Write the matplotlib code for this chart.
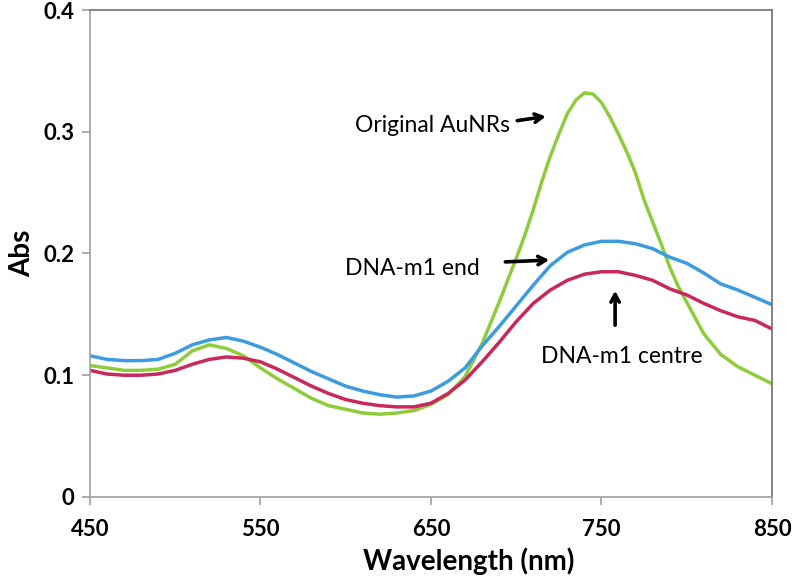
# UV-vis spectra of AuNRs before and after DNA-m1 binding

import matplotlib
matplotlib.use('Agg')
from matplotlib import pyplot as plt

plt.rcParams['font.family'] = ['Lato', 'DejaVu Sans']

wavelength = list(range(450, 851, 10))

dna_end = [0.116, 0.113, 0.112, 0.112, 0.113, 0.118, 0.125, 0.129, 0.131, 0.128,
           0.123, 0.117, 0.110, 0.103, 0.097, 0.091, 0.087, 0.084, 0.082, 0.083,
           0.087, 0.095, 0.106, 0.124, 0.140, 0.157, 0.174, 0.190, 0.201, 0.207,
           0.210, 0.210, 0.208, 0.204, 0.197, 0.192, 0.184, 0.175, 0.170, 0.164,
           0.158]

dna_centre = [0.104, 0.101, 0.100, 0.100, 0.101, 0.104, 0.109, 0.113, 0.115, 0.114,
              0.111, 0.105, 0.098, 0.091, 0.085, 0.080, 0.077, 0.075, 0.074, 0.074,
              0.077, 0.085, 0.096, 0.111, 0.127, 0.144, 0.159, 0.170, 0.178, 0.183,
              0.185, 0.185, 0.182, 0.178, 0.171, 0.166, 0.159, 0.153, 0.148, 0.145,
              0.138]

# original AuNRs read finer (5 nm) across the sharp peak
orig_wl = [450, 460, 470, 480, 490, 500, 510, 520, 530, 540, 550, 560, 570, 580,
           590, 600, 610, 620, 630, 640, 650, 660, 670, 680, 690, 695, 700, 705,
           710, 715, 720, 725, 730, 735, 740, 745, 750, 755, 760, 765, 770, 775,
           780, 785, 790, 795, 800, 810, 820, 830, 840, 850]
original = [0.108, 0.106, 0.104, 0.104, 0.105, 0.109, 0.120, 0.125, 0.122, 0.116,
            0.106, 0.097, 0.089, 0.081, 0.075, 0.072, 0.069, 0.068, 0.069, 0.071,
            0.076, 0.084, 0.099, 0.126, 0.160, 0.178, 0.196, 0.215, 0.236, 0.259,
            0.280, 0.298, 0.315, 0.326, 0.332, 0.331, 0.324, 0.312, 0.298, 0.283,
            0.266, 0.244, 0.226, 0.208, 0.189, 0.173, 0.160, 0.134, 0.117, 0.107,
            0.100, 0.093]

x_ticks = [450, 550, 650, 750, 850]
y_ticks = [0, 0.1, 0.2, 0.3, 0.4]
y_labels = ['0', '0.1', '0.2', '0.3', '0.4']

fig = plt.figure(figsize=(7.92, 5.76), dpi=100)
ax = fig.add_axes([0.1136, 0.1372, 0.8611, 0.8454])

ax.plot(orig_wl, original, color='#8fcc3c', lw=2.5)
ax.plot(wavelength, dna_centre, color='#c8285c', lw=2.5)
ax.plot(wavelength, dna_end, color='#3d9be0', lw=2.5)

ax.set_xlim(450, 850)
ax.set_ylim(0, 0.4)
ax.set_xticks(x_ticks)
ax.set_yticks(y_ticks)
ax.set_yticklabels(y_labels)

for side in ['left', 'bottom']:
    ax.spines[side].set_color('#a0a0a0')
    ax.spines[side].set_linewidth(1.2)
for side in ['top', 'right']:
    ax.spines[side].set_color('#707070')
    ax.spines[side].set_linewidth(1.2)

ax.tick_params(direction='out', length=6, width=1.2, color='#a0a0a0',
               labelsize=16, pad=5)
for lab in ax.get_xticklabels() + ax.get_yticklabels():
    lab.set_fontweight('bold')
ax.tick_params(axis='x', pad=10)

ax.set_xlabel('Wavelength (nm)', fontsize=20, fontweight='bold')
ax.xaxis.set_label_coords(0.556, -0.104)
ax.set_ylabel('Abs', fontsize=20, fontweight='bold', labelpad=6)

arrow = dict(arrowstyle='->,head_length=0.55,head_width=0.3', color='black', lw=2.6)

ax.text(651, 0.3055, 'Original AuNRs', fontsize=16.5, ha='center', va='center')
ax.annotate('', xy=(719, 0.3129), xytext=(699, 0.3088), arrowprops=arrow)

ax.text(639, 0.1873, 'DNA-m1 end', fontsize=16.5, ha='center', va='center')
ax.annotate('', xy=(721, 0.1947), xytext=(692, 0.193), arrowprops=arrow)

ax.text(762, 0.115, 'DNA-m1 centre', fontsize=16.5, ha='center', va='center')
ax.annotate('', xy=(758, 0.1717), xytext=(758, 0.1388), arrowprops=arrow)

plt.savefig('out.png', dpi=100)
